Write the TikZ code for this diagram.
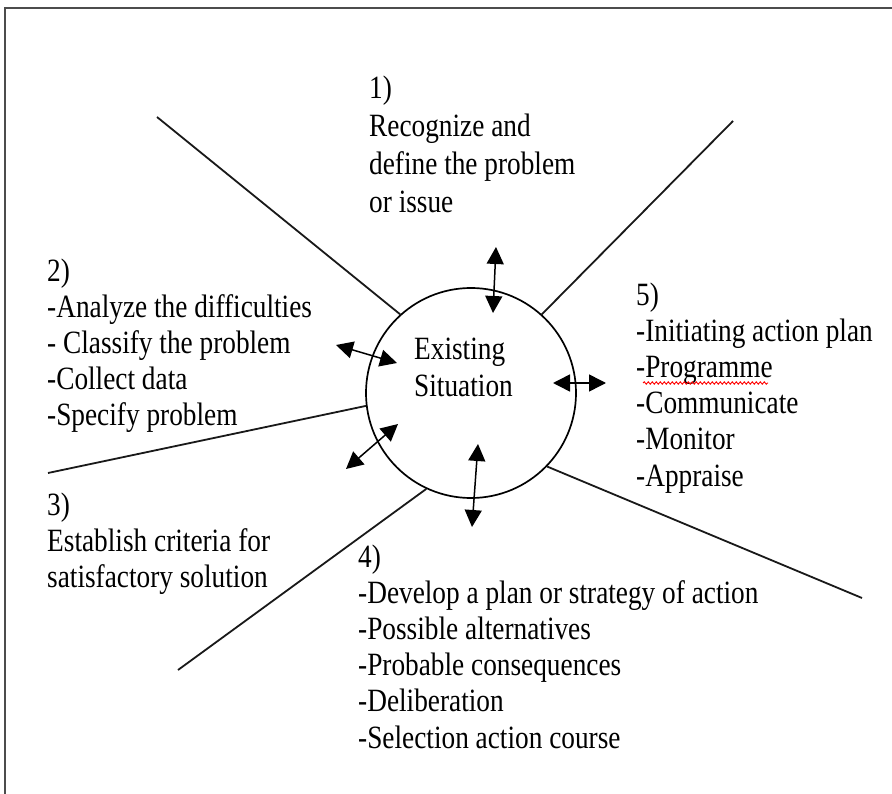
\documentclass[tikz,border=0pt]{standalone}
\usepackage{fontspec}
\setmainfont[FakeStretch=0.84]{Liberation Serif}
\usetikzlibrary{arrows.meta,decorations.pathmorphing}

\begin{document}
\begin{tikzpicture}[x=1pt,y=-1pt,
  txt/.style={anchor=base west, align=left, inner sep=0pt,
    font=\fontsize{32.5}{36.2}\selectfont},
  ray/.style={line width=1.8pt, black!90},
  dbl/.style={line width=1.5pt,
    {Triangle[length=17pt,width=17pt]}-{Triangle[length=17pt,width=17pt]}},
  frame/.style={line width=2.4pt, black!70},
  squiggle/.style={red, line width=0.9pt, decorate,
    decoration={snake, amplitude=1.2pt, segment length=4pt}}]
\useasboundingbox (0,0) rectangle (892,794);
\fill[white] (0,0) rectangle (892,794);

% page frame (top and left edges)
\draw[frame] (5,794) -- (5,8) -- (892,8);

% central circle
\node[circle, draw, line width=1.7pt, minimum size=210pt, inner sep=0pt] (c) at (471,393) {};
\node[txt, font=\fontsize{32.5}{37}\selectfont] (sit) at (414,396) {Existing\\Situation};

% dividing rays
\coordinate (r1) at (157,117);
\coordinate (r2) at (733,121);
\coordinate (r3) at (48,473);
\coordinate (r4) at (178,670);
\coordinate (r5) at (862,598);
\draw[ray] (c.132) -- (r1);
\draw[ray] (c.48.5) -- (r2);
\draw[ray] (c.187.6) -- (r3);
\draw[ray] (c.245.2) -- (r4);
\draw[ray] (c.316.1) -- (r5);

% two-way arrows
\coordinate (a1s) at (496,247); \coordinate (a1e) at (493,313);
\coordinate (a2s) at (336,345); \coordinate (a2e) at (397,363);
\coordinate (a3s) at (553,383); \coordinate (a3e) at (606,383);
\coordinate (a4s) at (346,469); \coordinate (a4e) at (398,424);
\coordinate (a5s) at (478,444); \coordinate (a5e) at (472,527);
\draw[dbl] (a1s) -- (a1e);
\draw[dbl] (a2s) -- (a2e);
\draw[dbl] (a3s) -- (a3e);
\draw[dbl] (a4s) -- (a4e);
\draw[dbl] (a5s) -- (a5e);

% step texts (anchored at the baseline of the last line)
\node[txt, font=\fontsize{32.5}{38.3}\selectfont] (b1) at (369,213)
  {1)\\Recognize and\\define the problem\\or issue};
\node[txt, font=\fontsize{32.5}{35.8}\selectfont] (b2) at (47,425)
  {2)\\-Analyze the difficulties\\- Classify the problem\\-Collect data\\-Specify problem};
\node[txt, font=\fontsize{32.5}{36}\selectfont] (b3) at (47,587)
  {3)\\Establish criteria for\\satisfactory solution};
\node[txt] (b4) at (358,748)
  {4)\\-Develop a plan or strategy of action\\-Possible alternatives\\-Probable consequences\\-Deliberation\\-Selection action course};
\node[txt] (b5) at (636,486)
  {5)\\-Initiating action plan\\-Programme\\-Communicate\\-Monitor\\-Appraise};

% spell-check underline
\draw[squiggle] (643,383) -- (768,383);
\end{tikzpicture}
\end{document}
